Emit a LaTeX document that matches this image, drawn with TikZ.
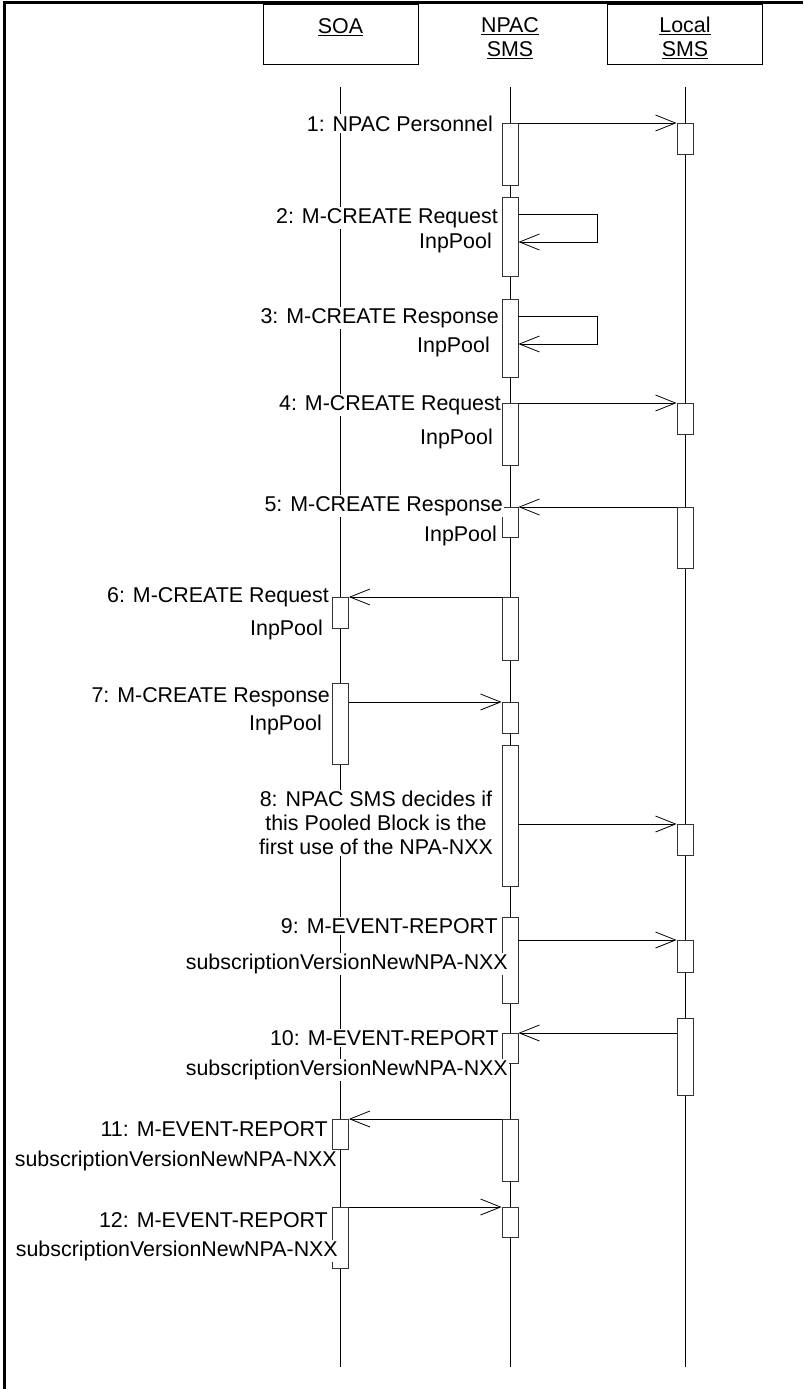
\documentclass[tikz,border=0pt]{standalone}
\usepackage{fontspec}
\setmainfont{Liberation Sans}
\usetikzlibrary{arrows.meta}

\begin{document}
\begin{tikzpicture}[x=1pt,y=-1pt,
    every node/.style={font=\fontsize{21.4}{24}\selectfont},
    head/.style={draw,line width=0.8pt,minimum width=155pt,minimum height=60pt,
                 anchor=north,align=center,inner sep=0pt},
    act/.style={draw=black!80,line width=0.8pt,fill=white,inner sep=0pt,
                minimum width=16pt,anchor=north},
    lbl/.style={fill=white,inner sep=1.5pt,anchor=base east},
    msg/.style={-{Straight Barb[length=20pt,width=16pt]},line width=0.8pt},
    life/.style={line width=0.8pt}]
    \useasboundingbox (0,0) rectangle (803,1389);
    \draw[line width=3pt] (803,3) -- (4,3) -- (4,1389);

    \node[head] (soa) at (340.5,4) {\rule{0pt}{23pt}\underline{SOA}\\\phantom{SMS}};
    \node[head,draw=none] (npac) at (510,4) {\rule{0pt}{23pt}\underline{NPAC}\\\underline{SMS}};
    \node[head] (local) at (685,4) {\rule{0pt}{23pt}\underline{Local}\\\underline{SMS}};
    \foreach \n in {soa,npac,local}
      \draw[life] (\n.south |- 0,87) -- (\n.south |- 0,1367);

    \node[act,minimum height=62pt] (n1) at (510,123) {};
    \node[act,minimum height=79pt] (n2) at (510,197) {};
    \node[act,minimum height=78pt] (n3) at (510,299) {};
    \node[act,minimum height=62pt] (n4) at (510,403) {};
    \node[act,minimum height=30pt] (n5) at (510,507) {};
    \node[act,minimum height=63pt] (n6) at (510,597) {};
    \node[act,minimum height=31pt] (n7) at (510,702) {};
    \node[act,minimum height=141pt] (n8) at (510,745) {};
    \node[act,minimum height=86pt] (n9) at (510,917) {};
    \node[act,minimum height=30pt] (n10) at (510,1033) {};
    \node[act,minimum height=62pt] (n11) at (510,1119) {};
    \node[act,minimum height=30pt] (n12) at (510,1207) {};

    \node[act,minimum height=31pt] (l1) at (685,123) {};
    \node[act,minimum height=31pt] (l4) at (685,403) {};
    \node[act,minimum height=61pt] (l5) at (685,507) {};
    \node[act,minimum height=31pt] (l8) at (685,824) {};
    \node[act,minimum height=32pt] (l9) at (685,940) {};
    \node[act,minimum height=77pt] (l10) at (685,1018) {};

    \node[act,minimum height=31pt] (s6) at (340.5,597) {};
    \node[act,minimum height=81pt] (s7) at (340.5,683) {};
    \node[act,minimum height=30pt] (s11) at (340.5,1119) {};
    \node[act,minimum height=61pt] (s12) at (340.5,1207) {};

    \draw[msg] (n1.north east) -- (l1.north west);
    \draw[msg] ([yshift=-17pt]n2.north east) -- ++(79,0) |- ([yshift=-45pt]n2.north east);
    \draw[msg] ([yshift=-17pt]n3.north east) -- ++(79,0) |- ([yshift=-45pt]n3.north east);
    \draw[msg] (n4.north east) -- (l4.north west);
    \draw[msg] (l5.north west) -- (n5.north east);
    \draw[msg] (n6.north west) -- (s6.north east);
    \draw[msg] (s7.east |- n7.north) -- (n7.north west);
    \draw[msg] (n8.east |- l8.north) -- (l8.north west);
    \draw[msg] (n9.east |- l9.north) -- (l9.north west);
    \draw[msg] (l10.west |- n10.north) -- (n10.north east);
    \draw[msg] (n11.north west) -- (s11.north east);
    \draw[msg] (s12.north east) -- (n12.north west);

    \node[lbl] (t1) at (494.5,131.5) {1: NPAC Personnel};
    \node[lbl] (t2a) at (499.5,223.5) {2: M-CREATE Request};
    \node[lbl] (t2b) at (493.5,248.5) {InpPool};
    \node[lbl] (t3a) at (500.5,323.5) {3: M-CREATE Response};
    \node[lbl] (t3b) at (491.5,352.5) {InpPool};
    \node[lbl] (t4a) at (502.5,410.5) {4: M-CREATE Request};
    \node[lbl] (t4b) at (494.5,444.5) {InpPool};
    \node[lbl] (t5a) at (504.5,511.5) {5: M-CREATE Response};
    \node[lbl] (t5b) at (498.5,541.5) {InpPool};
    \node[lbl] (t6a) at (330.5,602.5) {6: M-CREATE Request};
    \node[lbl] (t6b) at (324.5,635.5) {InpPool};
    \node[lbl] (t7a) at (331.5,702.5) {7: M-CREATE Response};
    \node[lbl] (t7b) at (323.5,730.5) {InpPool};
    \node[lbl,anchor=center,align=center] (t8) at (376,823)
      {8: NPAC SMS decides if\\this Pooled Block is the\\first use of the NPA-NXX};
    \node[lbl] (t9a) at (499.5,933.5) {9: M-EVENT-REPORT};
    \node[lbl] (t9b) at (509.5,969.5) {subscriptionVersionNewNPA-NXX};
    \node[lbl] (t10a) at (500.5,1045.5) {10: M-EVENT-REPORT};
    \node[lbl] (t10b) at (509.5,1075.5) {subscriptionVersionNewNPA-NXX};
    \node[lbl] (t11a) at (329.5,1136.5) {11: M-EVENT-REPORT};
    \node[lbl] (t11b) at (338.5,1166.5) {subscriptionVersionNewNPA-NXX};
    \node[lbl] (t12a) at (329.5,1227.5) {12: M-EVENT-REPORT};
    \node[lbl] (t12b) at (339.5,1256.5) {subscriptionVersionNewNPA-NXX};
\end{tikzpicture}
\end{document}
